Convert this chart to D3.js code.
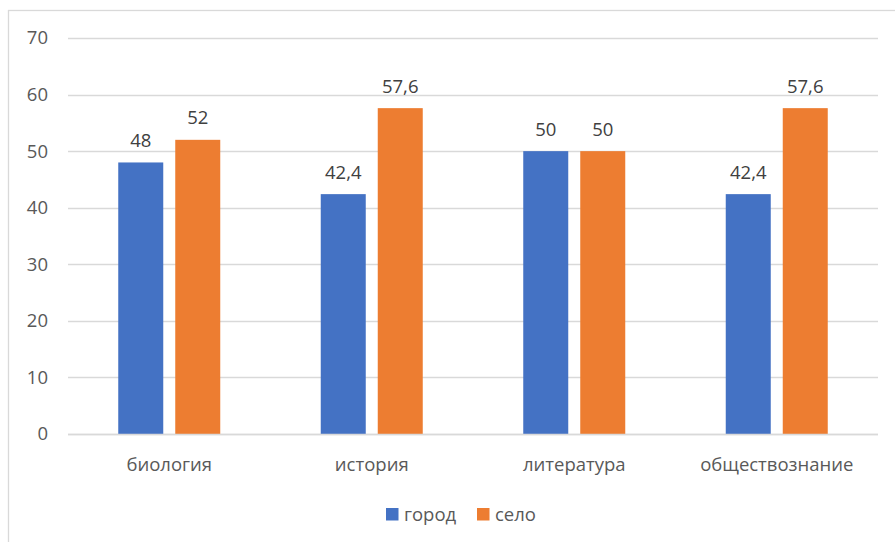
<!DOCTYPE html>
<html><head><meta charset="utf-8">
<script src="https://cdn.jsdelivr.net/npm/d3@7"></script>
<style>
html,body{margin:0;padding:0;background:#fff;}
svg{display:block;font-family:"Open Sans","Noto Sans",sans-serif;}
</style></head>
<body><svg id="c" width="895" height="542"></svg>
<script>
const categories = ["биология","история","литература","обществознание"];
const seriesNames = ["город","село"];
const gorod = [48, 42.4, 50, 42.4];
const selo = [52, 57.6, 50, 57.6];
const labelsGorod = ["48","42,4","50","42,4"];
const labelsSelo = ["52","57,6","50","57,6"];
const yTicks = [0,10,20,30,40,50,60,70];
const colors = ["#4472C4","#ED7D31"];

const svg = d3.select("#c");
const textColor = "#595959", gridColor = "#D9D9D9";
const fs = 18.5;

// outer frame
svg.append("rect").attr("x",8.5).attr("y",10.5).attr("width",1000).attr("height",1000)
  .attr("fill","none").attr("stroke",gridColor).attr("stroke-width",1.3);

const plotL = 68, plotR = 878;
const y = d3.scaleLinear().domain([0,70]).range([434,38]);
const x0 = d3.scaleBand().domain(categories).range([plotL,plotR]).padding(0);
const groupW = 102;
const x1 = d3.scaleBand().domain(seriesNames).range([0,groupW]).paddingInner(0.2105).paddingOuter(0);

// gridlines
svg.append("g").selectAll("line").data(yTicks).join("line")
  .attr("x1",plotL).attr("x2",plotR)
  .attr("y1",d=>Math.round(y(d))+0.5).attr("y2",d=>Math.round(y(d))+0.5)
  .attr("stroke",gridColor).attr("stroke-width",1.3);

// y axis labels
const yAxis = d3.axisLeft(y).tickValues(yTicks).tickSize(0).tickPadding(0);
const ga = svg.append("g").attr("transform","translate(48,0)").call(yAxis);
ga.select(".domain").remove();
ga.selectAll("text").attr("fill",textColor).attr("font-size",fs).attr("font-family","Open Sans").attr("text-anchor","end");

// bars
const data = categories.map((c,i)=>({cat:c, vals:[
  {s:seriesNames[0], v:gorod[i], l:labelsGorod[i], col:colors[0]},
  {s:seriesNames[1], v:selo[i], l:labelsSelo[i], col:colors[1]}]}));
const off = (x0.bandwidth()-groupW)/2;
const grp = svg.append("g").selectAll("g").data(data).join("g")
  .attr("transform",d=>`translate(${x0(d.cat)+off},0)`);
grp.selectAll("rect").data(d=>d.vals).join("rect")
  .attr("x",d=>x1(d.s)).attr("width",x1.bandwidth())
  .attr("y",d=>y(d.v)).attr("height",d=>y(0)-y(d.v))
  .attr("fill",d=>d.col);
grp.selectAll("text").data(d=>d.vals).join("text")
  .attr("x",d=>x1(d.s)+x1.bandwidth()/2).attr("y",d=>y(d.v)-15.5)
  .attr("text-anchor","middle").attr("fill","#404040").attr("font-size",fs).text(d=>d.l);

// x axis line
svg.append("line").attr("x1",plotL).attr("x2",plotR).attr("y1",434.5).attr("y2",434.5)
  .attr("stroke",gridColor).attr("stroke-width",1.3);

// x labels
const xAxis = d3.axisBottom(x0).tickSize(0).tickPadding(0);
const gx = svg.append("g").attr("transform","translate(0,471)").call(xAxis);
gx.select(".domain").remove();
gx.selectAll("text").attr("fill",textColor).attr("font-size",fs).attr("font-family","Open Sans").attr("dy",0);

// legend
const legX = [386, 477];
const leg = svg.append("g").selectAll("g").data(seriesNames).join("g")
  .attr("transform",(d,i)=>`translate(${legX[i]},508)`);
leg.append("rect").attr("width",12.5).attr("height",12.5).attr("fill",(d,i)=>colors[i]);
leg.append("text").attr("x",18).attr("y",13).attr("fill",textColor).attr("font-size",fs).text(d=>d);
</script></body></html>
